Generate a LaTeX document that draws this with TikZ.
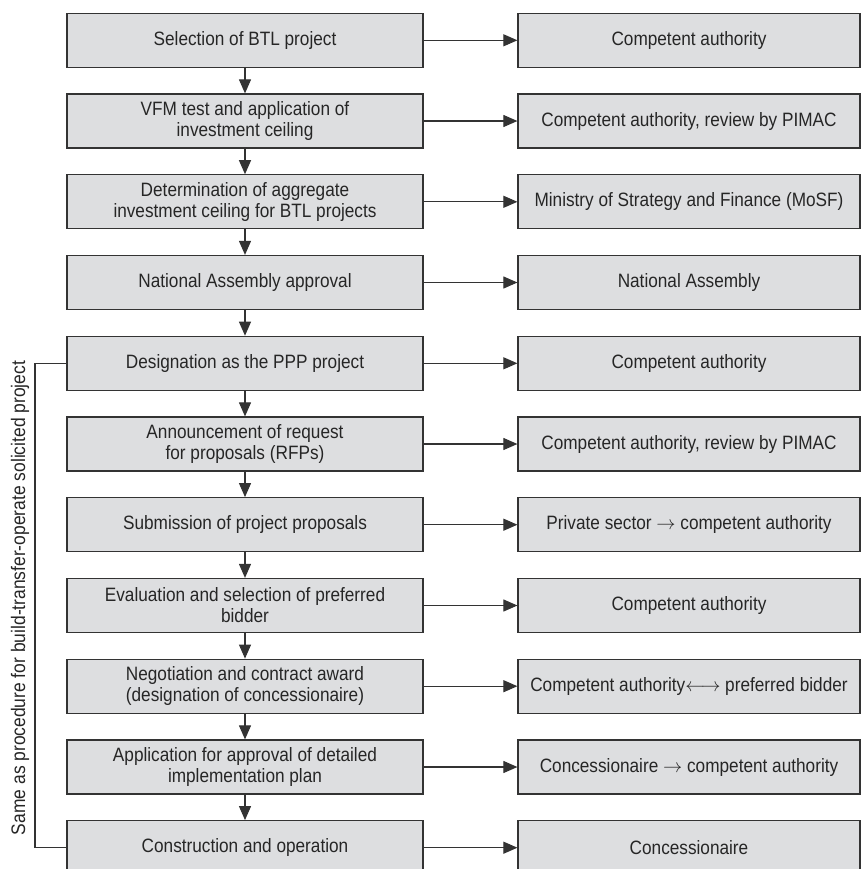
\documentclass[tikz,border=0pt]{standalone}
\usepackage{fontspec}
\setmainfont{Liberation Sans}[FakeStretch=0.89]
\usetikzlibrary{arrows.meta}
\definecolor{boxfill}{HTML}{DDDEE0}
\definecolor{boxline}{HTML}{333333}
\definecolor{txt}{HTML}{262626}
\tikzset{
  stepbox/.style={draw=boxline, fill=boxfill, line width=0.9pt, minimum width=267pt,
    minimum height=40.5pt, inner sep=0pt, align=center, text=txt,
    font=\fontsize{14.5}{15.75}\selectfont},
  whobox/.style={stepbox, minimum width=256.5pt},
  flow/.style={draw=boxline, line width=0.8pt, -{Triangle[length=10.5pt,width=9pt]}}
}

\begin{document}
\begin{tikzpicture}[x=0.75pt,y=-0.75pt]
\useasboundingbox (0,0) rectangle (861,869);

% Etapas do procedimento
\node[stepbox] (s1) at (245,40.3) {Selection of BTL project};
\node[stepbox] (s2) at (245,121.0) {VFM test and application of\\investment ceiling};
\node[stepbox] (s3) at (245,201.8) {Determination of aggregate\\investment ceiling for BTL projects};
\node[stepbox] (s4) at (245,282.5) {National Assembly approval};
\node[stepbox] (s5) at (245,363.3) {Designation as the PPP project};
\node[stepbox] (s6) at (245,444.0) {Announcement of request\\for proposals (RFPs)};
\node[stepbox] (s7) at (245,524.7) {Submission of project proposals};
\node[stepbox] (s8) at (245,605.5) {Evaluation and selection of preferred\\bidder};
\node[stepbox] (s9) at (245,686.2) {Negotiation and contract award\\(designation of concessionaire)};
\node[stepbox] (s10) at (245,767.0) {Application for approval of detailed\\implementation plan};
\node[stepbox] (s11) at (245,847.7) {Construction and operation};

% Responsaveis
\node[whobox] (r1) at (689,40.3) {Competent authority};
\node[whobox] (r2) at (689,121.0) {Competent authority, review by PIMAC};
\node[whobox] (r3) at (689,201.8) {Ministry of Strategy and Finance (MoSF)};
\node[whobox] (r4) at (689,282.5) {National Assembly};
\node[whobox] (r5) at (689,363.3) {Competent authority};
\node[whobox] (r6) at (689,444.0) {Competent authority, review by PIMAC};
\node[whobox] (r7) at (689,524.7) {Private sector $\rightarrow$ competent authority};
\node[whobox] (r8) at (689,605.5) {Competent authority};
\node[whobox] (r9) at (689,686.2) {Competent authority$\longleftrightarrow$ preferred bidder};
\node[whobox] (r10) at (689,767.0) {Concessionaire $\rightarrow$ competent authority};
\node[whobox] (r11) at (689,847.7) {Concessionaire};

% Setas verticais
\draw[flow] (s1) -- (s2);
\draw[flow] (s2) -- (s3);
\draw[flow] (s3) -- (s4);
\draw[flow] (s4) -- (s5);
\draw[flow] (s5) -- (s6);
\draw[flow] (s6) -- (s7);
\draw[flow] (s7) -- (s8);
\draw[flow] (s8) -- (s9);
\draw[flow] (s9) -- (s10);
\draw[flow] (s10) -- (s11);

% Setas horizontais
\draw[flow] (s1) -- (r1);
\draw[flow] (s2) -- (r2);
\draw[flow] (s3) -- (r3);
\draw[flow] (s4) -- (r4);
\draw[flow] (s5) -- (r5);
\draw[flow] (s6) -- (r6);
\draw[flow] (s7) -- (r7);
\draw[flow] (s8) -- (r8);
\draw[flow] (s9) -- (r9);
\draw[flow] (s10) -- (r10);
\draw[flow] (s11) -- (r11);

% Chave lateral
\coordinate (bk) at (35,0);
\draw[boxline, line width=0.8pt] (s5.west) -- (s5.west -| bk) -- (s11.west -| bk) -- (s11.west);
\node[rotate=90, text=txt, font=\fontsize{14.7}{16}\selectfont] (note) at (20,598)
  {Same as procedure for build-transfer-operate solicited project};

\end{tikzpicture}
\end{document}
